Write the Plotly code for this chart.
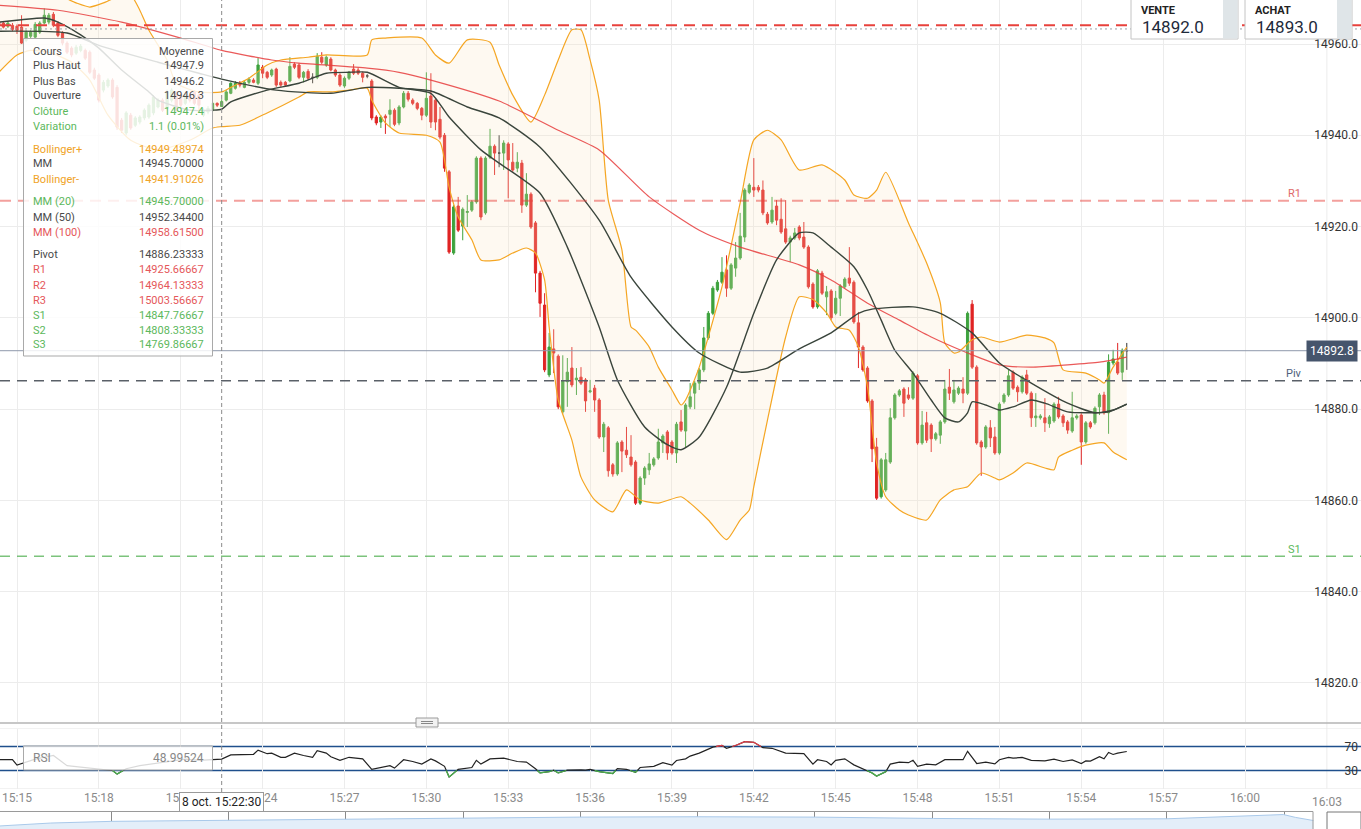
import pandas as pd
import plotly.graph_objects as go

# ---------------- data (10-second candles, 8 oct. 15:14:20 -> 15:55:40) ----------------
opens = [
14964.8, 14964.6, 14963.9, 14964.1, 14963.9, 14963.7, 14960.8, 14961.7, 14961.5, 14962.6,
14964.6, 14964.8, 14966.5, 14964.6, 14962.4, 14960.2, 14959.1, 14958.0, 14958.6, 14958.6,
14958.2, 14954.3, 14953.2, 14949.9, 14950.8, 14952.1, 14950.5, 14943.3, 14940.5, 14944.4,
14942.2, 14942.9, 14943.8, 14944.0, 14944.9, 14946.2, 14947.7, 14945.9, 14947.7, 14949.2,
14948.8, 14947.0, 14948.8, 14949.5, 14948.8, 14944.4, 14945.1, 14945.5, 14947.0, 14946.3,
14947.7, 14949.2, 14950.3, 14951.4, 14950.5, 14951.6, 14952.1, 14951.4, 14954.9, 14953.8,
14953.2, 14954.5, 14951.6, 14951.6, 14951.9, 14955.6, 14955.4, 14952.7, 14954.0, 14952.7,
14952.7, 14957.1, 14955.4, 14956.7, 14954.3, 14953.2, 14950.8, 14952.5, 14954.5, 14954.3,
14953.6, 14953.0, 14951.9, 14944.0, 14942.9, 14944.2, 14944.6, 14945.5, 14942.7, 14946.2,
14949.2, 14947.7, 14947.0, 14945.9, 14944.4, 14948.6, 14947.7, 14943.5, 14940.0, 14932.0,
14914.2, 14924.5, 14920.1, 14923.1, 14923.6, 14925.4, 14935.0, 14923.0, 14935.2, 14937.6,
14936.1, 14936.1, 14938.1, 14934.1, 14932.8, 14933.9, 14924.7, 14927.1, 14920.8, 14909.8,
14902.8, 14887.5, 14893.2, 14891.6, 14879.4, 14886.0, 14889.0, 14886.4, 14887.0, 14886.4,
14883.8, 14884.6, 14882.0, 14873.9, 14875.9, 14867.8, 14865.8, 14872.8, 14871.0, 14869.5,
14868.4, 14859.4, 14864.9, 14866.7, 14867.8, 14869.3, 14872.6, 14875.0, 14872.8, 14870.4,
14877.2, 14875.2, 14880.5, 14883.5, 14885.7, 14888.6, 14895.6, 14901.0, 14906.1, 14907.8,
14910.5, 14906.5, 14910.9, 14913.1, 14917.7, 14927.5, 14928.6, 14928.6, 14928.0, 14922.7,
14921.0, 14924.5, 14921.6, 14919.5, 14916.6, 14917.5, 14919.9, 14917.7, 14915.5, 14907.4,
14902.4, 14909.8, 14904.6, 14905.9, 14901.0, 14904.3, 14906.8, 14908.7, 14907.8, 14898.9,
14893.6, 14889.0, 14881.8, 14871.7, 14860.8, 14862.3, 14868.4, 14878.1, 14883.1, 14884.4,
14883.1, 14882.4, 14887.3, 14872.6, 14877.0, 14876.5, 14873.5, 14874.3, 14877.2, 14884.8,
14881.6, 14883.5, 14884.4, 14883.5, 14903.0, 14889.2, 14872.8, 14871.7, 14875.9, 14873.9,
14870.4, 14881.6, 14883.1, 14888.1, 14884.8, 14883.8, 14887.5, 14883.5, 14878.1, 14878.1,
14878.1, 14876.8, 14877.4, 14881.1, 14878.5, 14877.2, 14875.2, 14878.1, 14878.7, 14872.8,
14877.0, 14877.0, 14880.5, 14883.1, 14879.2, 14890.1, 14890.3, 14888.1, 14892.8]

highs = [
14965.2, 14965.0, 14965.0, 14964.6, 14964.3, 14966.3, 14963.0, 14963.0, 14964.8, 14965.0,
14967.8, 14966.8, 14967.0, 14965.0, 14962.8, 14960.6, 14959.5, 14959.8, 14960.0, 14959.0,
14958.6, 14954.8, 14953.6, 14952.1, 14952.5, 14952.5, 14951.0, 14943.8, 14945.3, 14944.9,
14944.2, 14944.4, 14945.9, 14947.0, 14948.8, 14948.1, 14948.1, 14950.0, 14950.3, 14949.7,
14949.2, 14949.2, 14949.2, 14949.9, 14949.2, 14945.9, 14946.4, 14947.3, 14947.2, 14947.9,
14949.9, 14951.6, 14951.9, 14951.9, 14952.1, 14952.7, 14952.5, 14956.9, 14955.4, 14954.1,
14954.6, 14954.8, 14952.0, 14951.9, 14957.1, 14956.0, 14955.8, 14954.1, 14954.5, 14953.6,
14958.0, 14958.2, 14957.5, 14957.1, 14954.6, 14953.6, 14952.9, 14954.1, 14955.6, 14954.8,
14954.0, 14953.4, 14952.3, 14944.4, 14944.4, 14944.6, 14947.9, 14945.9, 14946.6, 14949.7,
14949.7, 14948.1, 14947.3, 14946.2, 14953.8, 14953.6, 14948.1, 14946.2, 14940.5, 14932.4,
14924.7, 14926.5, 14924.2, 14926.9, 14925.8, 14935.4, 14935.4, 14935.4, 14941.4, 14938.0,
14940.0, 14938.9, 14938.5, 14938.3, 14936.3, 14934.6, 14931.7, 14927.5, 14921.2, 14910.3,
14905.4, 14896.7, 14897.5, 14892.0, 14891.8, 14891.2, 14893.6, 14889.0, 14889.2, 14886.8,
14886.4, 14885.3, 14882.4, 14877.2, 14876.3, 14868.2, 14873.0, 14873.2, 14876.1, 14874.3,
14868.8, 14865.3, 14867.5, 14870.4, 14869.5, 14875.7, 14874.5, 14875.4, 14873.2, 14877.2,
14879.8, 14881.3, 14885.7, 14886.2, 14889.0, 14898.0, 14901.5, 14907.0, 14908.3, 14913.3,
14913.7, 14912.0, 14916.6, 14923.0, 14928.4, 14929.5, 14935.0, 14929.1, 14930.1, 14923.2,
14926.5, 14925.8, 14926.2, 14925.8, 14918.0, 14919.7, 14920.3, 14921.0, 14915.9, 14907.8,
14910.7, 14910.3, 14907.0, 14906.3, 14905.9, 14907.4, 14908.9, 14915.5, 14908.2, 14901.3,
14894.0, 14889.4, 14882.2, 14873.7, 14869.3, 14870.4, 14880.2, 14883.5, 14884.4, 14884.8,
14884.8, 14888.3, 14887.7, 14879.6, 14879.4, 14876.9, 14875.0, 14877.6, 14886.4, 14888.8,
14886.4, 14885.0, 14887.0, 14901.4, 14903.9, 14889.6, 14873.2, 14876.5, 14877.6, 14876.1,
14881.5, 14883.5, 14888.6, 14888.5, 14885.2, 14887.4, 14888.6, 14883.9, 14883.5, 14878.9,
14882.4, 14878.7, 14881.5, 14882.7, 14878.9, 14877.6, 14883.8, 14878.9, 14879.1, 14877.4,
14877.4, 14880.6, 14883.5, 14883.8, 14892.0, 14893.0, 14894.5, 14893.3, 14894.5]

lows = [
14963.8, 14963.4, 14963.5, 14962.8, 14962.2, 14960.0, 14960.4, 14961.2, 14961.2, 14962.2,
14964.3, 14964.3, 14963.7, 14961.5, 14959.7, 14957.8, 14957.1, 14957.6, 14958.2, 14956.5,
14953.4, 14952.1, 14947.2, 14949.4, 14950.4, 14948.0, 14941.2, 14940.5, 14940.0, 14941.2,
14941.8, 14942.4, 14943.3, 14943.6, 14944.4, 14945.9, 14945.1, 14945.5, 14947.2, 14945.1,
14946.2, 14946.6, 14947.2, 14946.6, 14945.5, 14944.0, 14944.6, 14945.1, 14946.2, 14946.2,
14947.4, 14949.0, 14950.0, 14950.5, 14950.3, 14951.2, 14951.4, 14951.0, 14952.5, 14952.3,
14952.8, 14950.6, 14950.6, 14950.8, 14951.6, 14954.5, 14952.3, 14951.6, 14952.1, 14951.4,
14952.3, 14955.6, 14955.0, 14954.0, 14952.8, 14950.6, 14950.4, 14952.1, 14953.2, 14953.2,
14951.6, 14952.5, 14943.3, 14942.2, 14941.6, 14940.3, 14941.8, 14942.0, 14942.2, 14945.9,
14947.4, 14946.6, 14945.5, 14943.3, 14944.0, 14941.6, 14941.1, 14939.1, 14932.0, 14914.0,
14913.8, 14918.8, 14917.0, 14919.9, 14923.2, 14925.0, 14921.4, 14922.6, 14934.8, 14931.3,
14933.0, 14932.4, 14926.2, 14932.0, 14931.9, 14923.0, 14924.3, 14919.5, 14905.6, 14900.2,
14888.1, 14887.0, 14887.9, 14880.0, 14879.0, 14880.5, 14884.8, 14883.1, 14885.3, 14879.4,
14883.5, 14879.4, 14873.5, 14870.6, 14865.2, 14865.2, 14865.4, 14866.2, 14869.3, 14867.4,
14859.0, 14859.0, 14863.4, 14865.6, 14867.4, 14868.9, 14870.4, 14868.9, 14870.0, 14868.2,
14875.0, 14871.5, 14880.0, 14880.0, 14884.2, 14888.1, 14895.2, 14900.6, 14905.7, 14907.4,
14904.6, 14906.1, 14909.0, 14912.7, 14916.6, 14927.1, 14926.5, 14927.5, 14922.5, 14920.4,
14920.6, 14920.3, 14918.4, 14916.2, 14912.2, 14917.1, 14917.0, 14915.1, 14906.4, 14902.0,
14902.0, 14905.0, 14900.6, 14899.5, 14900.6, 14900.4, 14906.4, 14907.0, 14898.7, 14889.0,
14888.2, 14881.4, 14868.4, 14860.1, 14860.4, 14861.9, 14868.0, 14877.7, 14882.7, 14878.3,
14882.0, 14882.0, 14872.2, 14872.2, 14872.6, 14870.6, 14873.1, 14872.4, 14876.8, 14882.0,
14881.2, 14883.1, 14881.3, 14883.1, 14888.8, 14872.2, 14865.4, 14871.3, 14871.7, 14870.0,
14870.0, 14881.2, 14882.7, 14884.2, 14881.6, 14883.4, 14883.1, 14876.1, 14876.1, 14877.7,
14875.0, 14875.9, 14877.0, 14877.9, 14876.1, 14874.6, 14874.8, 14877.7, 14867.8, 14872.4,
14875.7, 14876.6, 14878.7, 14878.8, 14874.6, 14889.6, 14887.5, 14886.4, 14888.6]

closes = [
14964.1, 14963.7, 14964.6, 14963.2, 14963.0, 14960.2, 14962.6, 14962.6, 14964.3, 14964.6,
14966.3, 14966.3, 14964.1, 14961.9, 14960.2, 14958.2, 14957.6, 14959.3, 14959.5, 14956.9,
14953.8, 14952.5, 14947.7, 14951.6, 14952.1, 14948.4, 14941.8, 14941.1, 14944.9, 14941.6,
14943.8, 14944.0, 14945.5, 14946.6, 14948.4, 14947.7, 14945.5, 14949.5, 14949.9, 14945.5,
14946.6, 14948.8, 14947.7, 14947.0, 14946.6, 14945.5, 14945.9, 14947.0, 14946.6, 14947.4,
14949.5, 14951.4, 14951.4, 14951.0, 14951.6, 14952.3, 14951.6, 14955.4, 14953.6, 14952.7,
14954.3, 14951.0, 14951.0, 14951.0, 14955.1, 14954.9, 14952.7, 14953.8, 14952.5, 14952.7,
14957.3, 14956.0, 14957.1, 14954.3, 14953.2, 14951.0, 14952.5, 14953.8, 14953.6, 14953.6,
14952.7, 14953.0, 14943.8, 14942.7, 14944.0, 14943.8, 14945.5, 14942.4, 14946.2, 14949.2,
14947.9, 14947.0, 14945.9, 14944.4, 14948.1, 14942.9, 14942.9, 14939.6, 14932.8, 14914.4,
14924.3, 14919.2, 14923.8, 14923.3, 14925.4, 14935.0, 14922.1, 14935.0, 14937.6, 14936.1,
14936.1, 14938.3, 14934.6, 14932.4, 14934.1, 14924.7, 14927.1, 14919.9, 14909.8, 14903.2,
14888.6, 14893.6, 14892.3, 14880.5, 14886.2, 14888.1, 14885.3, 14886.8, 14885.7, 14881.8,
14884.0, 14882.0, 14873.9, 14876.7, 14866.5, 14865.8, 14872.6, 14870.8, 14870.0, 14867.8,
14859.4, 14864.9, 14867.1, 14868.0, 14869.1, 14872.8, 14874.1, 14870.4, 14870.4, 14876.7,
14875.4, 14880.9, 14882.7, 14885.7, 14888.6, 14895.6, 14901.0, 14906.5, 14907.8, 14910.0,
14906.5, 14911.6, 14913.1, 14917.9, 14928.0, 14929.1, 14928.0, 14928.0, 14923.0, 14920.8,
14923.6, 14921.4, 14918.8, 14916.6, 14917.5, 14918.6, 14917.5, 14915.5, 14906.8, 14902.4,
14910.3, 14905.4, 14905.7, 14900.0, 14904.3, 14907.0, 14908.5, 14907.6, 14899.1, 14893.6,
14888.6, 14881.8, 14871.3, 14860.5, 14868.9, 14868.9, 14878.1, 14883.1, 14884.0, 14881.3,
14882.4, 14887.9, 14872.6, 14876.5, 14873.2, 14873.5, 14874.6, 14877.2, 14884.4, 14883.5,
14884.2, 14884.6, 14883.5, 14901.0, 14889.2, 14872.6, 14871.7, 14876.1, 14873.7, 14870.4,
14881.1, 14883.1, 14887.3, 14884.6, 14883.8, 14887.0, 14883.5, 14878.1, 14878.5, 14878.5,
14877.0, 14878.3, 14881.1, 14878.3, 14877.0, 14875.4, 14878.1, 14878.5, 14872.8, 14877.0,
14876.1, 14880.2, 14883.1, 14879.2, 14890.3, 14891.0, 14887.9, 14892.9, 14892.8]

# indicator lines, sampled at candle indices
mm20_idx = [0, 5, 10, 13, 18, 22, 27, 33, 35, 42, 47, 49, 51, 59, 66, 72, 77, 81, 88, 95, 99, 106, 110,
            119, 125, 132, 136, 142, 147, 150, 154, 160, 166, 171, 176, 179, 183, 188, 191, 194, 197,
            201, 205, 208, 211, 213, 214, 217, 220, 223, 227, 230, 235, 239, 244, 248]
mm20_val = [14964.8, 14965.3, 14965.7, 14964.8, 14962.0, 14959.1, 14954.3, 14949.5, 14947.7, 14945.5,
            14945.5, 14945.7, 14947.3, 14949.9, 14951.4, 14953.6, 14953.8, 14953.8, 14950.5, 14949.2,
            14944.0, 14936.8, 14933.9, 14927.3, 14915.5, 14898.0, 14886.4, 14876.1, 14872.2, 14871.1,
            14873.9, 14884.8, 14901.0, 14912.7, 14918.6, 14918.6, 14915.5, 14911.2, 14906.1, 14899.5,
            14892.9, 14887.9, 14882.0, 14878.1, 14877.2, 14879.2, 14881.6, 14880.9, 14879.8, 14880.5,
            14882.0, 14881.3, 14879.4, 14879.2, 14879.4, 14881.1]

mm50_idx = [0, 15, 22, 35, 44, 49, 61, 73, 81, 88, 95, 103, 110, 119, 132, 139, 148, 154, 163, 169,
            176, 183, 189, 192, 201, 207, 214, 220, 227, 235, 241, 245, 248]
mm50_val = [14962.8, 14962.4, 14959.7, 14956.0, 14953.6, 14952.3, 14949.9, 14949.2, 14950.5, 14950.3,
            14949.7, 14946.2, 14943.8, 14937.4, 14921.4, 14908.9, 14898.0, 14892.3, 14888.1, 14889.0,
            14893.2, 14896.7, 14901.0, 14901.9, 14902.4, 14901.0, 14896.7, 14890.1, 14885.7, 14881.3,
            14879.2, 14879.8, 14881.1]

mm100_idx = [0, 13, 27, 40, 49, 60, 66, 81, 88, 95, 110, 123, 132, 143, 154, 163, 176, 183, 191, 198,
             205, 213, 220, 227, 235, 242, 248]
mm100_val = [14968.5, 14967.4, 14964.8, 14961.3, 14958.6, 14956.5, 14955.8, 14954.7, 14953.8, 14952.1,
             14947.5, 14941.1, 14936.8, 14926.5, 14919.2, 14915.5, 14911.6, 14908.3, 14903.2, 14899.5,
             14895.8, 14892.3, 14889.7, 14889.2, 14889.7, 14890.3, 14891.4]

boll_up_idx = [0, 13, 17, 20, 23, 26, 29, 31, 33, 37, 39, 44, 49, 51, 55, 59, 62, 68, 72, 81, 82, 85,
               93, 96, 99, 103, 108, 110, 113, 117, 120, 123, 126, 128, 130, 132, 134, 137, 139, 140,
               143, 145, 148, 150, 151, 154, 159, 163, 166, 169, 172, 176, 181, 186, 188, 191, 193,
               195, 200, 204, 207, 208, 210, 211, 214, 216, 220, 226, 230, 232, 234, 239, 242, 243,
               245, 248]
boll_up_val = [14972.9, 14970.7, 14969.0, 14968.1, 14969.0, 14970.3, 14970.7, 14967.4, 14963.0, 14956.5,
               14951.4, 14949.5, 14949.5, 14950.5, 14952.5, 14955.4, 14956.5, 14957.1, 14957.6, 14957.6,
               14960.9, 14961.3, 14961.3, 14957.6, 14955.8, 14960.9, 14960.4, 14955.4, 14948.8, 14942.9,
               14948.8, 14956.5, 14963.1, 14963.1, 14956.5, 14947.7, 14925.8, 14914.9, 14898.0, 14897.3,
               14893.6, 14889.2, 14884.2, 14880.9, 14882.0, 14889.2, 14906.8, 14925.2, 14939.0, 14941.1,
               14939.0, 14932.4, 14933.5, 14930.2, 14926.9, 14926.2, 14928.0, 14931.9, 14920.8, 14912.0,
               14903.3, 14894.5, 14892.3, 14892.5, 14895.2, 14895.8, 14894.7, 14896.2, 14895.6, 14894.5,
               14888.6, 14887.9, 14886.4, 14885.7, 14889.2, 14893.6]

boll_lo_idx = [0, 4, 7, 11, 16, 20, 24, 29, 35, 42, 47, 49, 53, 59, 66, 68, 73, 77, 81, 82, 85, 88, 94,
               97, 99, 101, 104, 106, 110, 113, 116, 118, 120, 121, 123, 126, 128, 131, 135, 138, 141,
               145, 150, 152, 156, 160, 163, 165, 166, 169, 173, 176, 179, 182, 184, 187, 189, 191,
               193, 195, 198, 200, 204, 207, 210, 213, 216, 219, 220, 223, 226, 230, 232, 233, 236,
               239, 243, 245, 248]
boll_lo_val = [14953.8, 14957.6, 14958.6, 14958.2, 14956.0, 14952.1, 14944.4, 14938.9, 14936.8, 14938.9,
               14941.6, 14941.9, 14942.2, 14944.9, 14948.4, 14949.5, 14949.5, 14949.9, 14950.3, 14947.7,
               14942.7, 14940.5, 14940.0, 14938.5, 14928.6, 14922.1, 14917.1, 14912.7, 14912.7, 14914.2,
               14915.3, 14914.2, 14908.3, 14898.0, 14882.0, 14873.2, 14865.1, 14860.1, 14857.5, 14862.3,
               14860.1, 14859.4, 14860.8, 14859.4, 14855.7, 14851.4, 14855.7, 14857.9, 14863.0, 14877.6,
               14895.8, 14904.6, 14904.0, 14901.1, 14898.0, 14897.3, 14893.6, 14884.8, 14868.2, 14860.8,
               14857.9, 14856.8, 14855.7, 14860.1, 14862.3, 14863.0, 14866.0, 14864.9, 14864.5, 14866.0,
               14868.2, 14867.1, 14866.7, 14869.5, 14871.0, 14872.1, 14872.6, 14870.6, 14868.9]

rsi_idx = [0, 3, 4, 8, 12, 15, 18, 21, 25, 26, 28, 31, 34, 38, 41, 44, 47, 49, 51, 56, 57, 59, 60, 62,
           63, 65, 67, 69, 70, 72, 73, 75, 77, 80, 82, 84, 86, 87, 89, 91, 93, 95, 96, 98, 99, 101, 102,
           104, 105, 106, 108, 111, 114, 116, 118, 119, 121, 122, 123, 125, 128, 129, 130, 132, 135, 136,
           138, 140, 141, 144, 146, 148, 149, 151, 152, 154, 157, 159, 160, 162, 164, 166, 168, 170, 173,
           175, 177, 179, 180, 182, 183, 184, 186, 188, 190, 192, 193, 195, 196, 198, 200, 201, 202, 204,
           206, 208, 212, 213, 215, 217, 219, 220, 222, 223, 225, 227, 230, 232, 234, 236, 238, 239, 240,
           242, 243, 244, 245, 246, 248]
rsi_val = [48, 48, 39, 49, 55, 38, 35.6, 33, 30, 24, 33, 38, 41, 45, 49, 47, 47.5, 48.99524, 56, 57, 64,
           58, 59, 52, 52, 59, 55, 52, 63, 59, 53, 47, 52, 49.4, 32, 35, 38, 34, 48, 45, 40.6, 49.4, 46,
           37, 19, 32, 33, 35, 47, 40.6, 49.4, 50.5, 45, 44, 33, 26, 28, 30.5, 26, 30.5, 31, 30.5, 32,
           28, 25, 33, 32, 27, 35, 37, 43, 39, 46.7, 49.4, 54, 59, 69, 71.7, 67, 71.7, 78, 77, 68, 67,
           59, 59, 58, 40.6, 48, 45, 39.4, 47, 49.4, 39.4, 33, 26, 20.6, 28, 40.6, 44, 43, 47, 37, 40.6,
           39.4, 48, 48, 62, 41.7, 44, 41, 48, 52, 50.5, 51.7, 47, 46, 48.9, 45, 47.8, 41.7, 46, 45.6,
           53, 49.4, 60, 56.7, 59, 61.7]

nav_pos = [0, 3.7, 8.2, 16.8, 25.4, 34.0, 42.6, 51.3, 59.9, 68.6, 77.1, 85.7, 94.3, 95.2, 96.5]
nav_val = [1.8, 3.5, 4.5, 5.2, 6.0, 6.5, 7.0, 7.2, 7.0, 6.2, 5.8, 6.0, 8.5, 6.8, 5.0]

time_tick_labels = ["15:15", "15:18", "15:21", "15:24", "15:27", "15:30", "15:33", "15:36", "15:39",
                    "15:42", "15:45", "15:48", "15:51", "15:54", "15:57", "16:00", "16:03"]
pivot_names = ["R2", "R1", "Pivot", "S1"]
pivot_values = [14964.13333, 14925.66667, 14886.23333, 14847.76667]
last_price = 14892.8
sell_price, buy_price = "14892.0", "14893.0"
crosshair_time = "2019-10-08 15:22:30"
crosshair_price = 14963.3
rsi_value_text = "48.99524"

tip_rows = [
    ("Cours", "Moyenne", "dark"), ("Plus Haut", "14947.9", "dark"), ("Plus Bas", "14946.2", "dark"),
    ("Ouverture", "14946.3", "dark"), ("Clôture", "14947.4", "green"), ("Variation", "1.1 (0.01%)", "green"),
    ("Bollinger+", "14949.48974", "orange"), ("MM", "14945.70000", "dark"), ("Bollinger-", "14941.91026", "orange"),
    ("MM (20)", "14945.70000", "green"), ("MM (50)", "14952.34400", "dark"), ("MM (100)", "14958.61500", "red"),
    ("Pivot", "14886.23333", "dark"), ("R1", "14925.66667", "red"), ("R2", "14964.13333", "red"),
    ("R3", "15003.56667", "red"), ("S1", "14847.76667", "green"), ("S2", "14808.33333", "green"),
    ("S3", "14769.86667", "green")]
tip_row_y = [51, 66, 81, 96, 111, 126, 149, 164, 179, 202, 217, 232, 255, 270, 285, 300, 315, 330, 345]

# ---------------- figure ----------------
W, H = 1361, 829
FONT = "Roboto, Arial, sans-serif"
def PX(x): return x / W
def PY(y): return 1 - y / H

start = pd.Timestamp("2019-10-08 15:14:20")
times = [start + pd.Timedelta(seconds=10 * i) for i in range(len(opens))]
tick_times = [pd.Timestamp("2019-10-08 " + s + ":00") for s in time_tick_labels]
GREEN, RED = "#3da23d", "#e02424"
TXT = {"dark": "#4a4a4a", "green": "#5cb85c", "orange": "#f0a326", "red": "#e5575a"}

fig = go.Figure()

def line_xy(idx, val):
    return [times[i] for i in idx], val

# Bollinger fill
bx, by = line_xy(boll_lo_idx, boll_lo_val)
fig.add_trace(go.Scatter(x=bx, y=by, mode="lines", line=dict(width=0, shape="spline", smoothing=0.5),
                         hoverinfo="skip", xaxis="x", yaxis="y"))
ux, uy = line_xy(boll_up_idx, boll_up_val)
fig.add_trace(go.Scatter(x=ux, y=uy, mode="lines", line=dict(width=0, shape="spline", smoothing=0.5),
                         fill="tonexty", fillcolor="rgba(250,228,190,0.22)", hoverinfo="skip",
                         xaxis="x", yaxis="y"))

# candles
n = len(opens)
groups = [([i for i in range(n) if closes[i] > opens[i]], GREEN),
          ([i for i in range(n) if closes[i] < opens[i]], RED),
          ([i for i in range(n) if closes[i] == opens[i]], "#333333")]
for idx, col in groups:
    fig.add_trace(go.Candlestick(
        x=[times[i] for i in idx], open=[opens[i] for i in idx], high=[highs[i] for i in idx],
        low=[lows[i] for i in idx], close=[closes[i] for i in idx],
        increasing=dict(line=dict(color=col, width=1), fillcolor=col),
        decreasing=dict(line=dict(color=col, width=1), fillcolor=col),
        whiskerwidth=0, hoverinfo="skip", xaxis="x", yaxis="y"))

# band lines and moving averages
for idx, val, col, w in [(boll_up_idx, boll_up_val, "#f5a623", 1.2), (boll_lo_idx, boll_lo_val, "#f5a623", 1.2),
                         (mm100_idx, mm100_val, "rgba(230,60,60,0.85)", 1.2),
                         (mm50_idx, mm50_val, "#3a453c", 1.4), (mm20_idx, mm20_val, "#3a453c", 1.4)]:
    x, y = line_xy(idx, val)
    fig.add_trace(go.Scatter(x=x, y=y, mode="lines", line=dict(color=col, width=w, shape="spline", smoothing=0.6),
                             hoverinfo="skip", xaxis="x", yaxis="y"))

# RSI
rx = [times[i] for i in rsi_idx]
fig.add_trace(go.Scatter(x=rx, y=rsi_val, mode="lines", line=dict(color="#222222", width=1.2),
                         hoverinfo="skip", xaxis="x", yaxis="y2"))

def clip_parts(ts, vs, level, above):
    tn = [t.value / 1e6 for t in ts]
    xs, ys = [], []
    for k in range(len(vs) - 1):
        t1, t2, v1, v2 = tn[k], tn[k + 1], vs[k], vs[k + 1]
        in1 = v1 > level if above else v1 < level
        in2 = v2 > level if above else v2 < level
        if not in1 and not in2:
            continue
        if in1 and in2:
            seg = [(t1, v1), (t2, v2)]
        else:
            f = (level - v1) / (v2 - v1)
            tc = t1 + f * (t2 - t1)
            seg = [(t1, v1), (tc, level)] if in1 else [(tc, level), (t2, v2)]
        xs += [pd.Timestamp(s[0], unit="ms") for s in seg] + [None]
        ys += [s[1] for s in seg] + [None]
    return xs, ys

for level, above, col in [(70, True, "#e8404a"), (30, False, "#4cb04c")]:
    xs, ys = clip_parts(rx, rsi_val, level, above)
    fig.add_trace(go.Scatter(x=xs, y=ys, mode="lines", line=dict(color=col, width=1.3),
                             hoverinfo="skip", xaxis="x", yaxis="y2"))

# navigator
fig.add_trace(go.Scatter(x=nav_pos, y=nav_val, mode="lines", line=dict(color="#a9c9ea", width=1),
                         fill="tozeroy", fillcolor="#e3eef9", hoverinfo="skip", xaxis="x3", yaxis="y3"))

xmin = pd.Timestamp("2019-10-08 15:14:22.6")
xmax = pd.Timestamp("2019-10-08 16:04:15")

shapes = []
# pivot levels
lvl_style = {"R2": ("#e8413c", 2, "11px,7px"), "R1": ("rgba(232,65,60,0.5)", 2, "11px,7px"),
             "Pivot": ("#5a6068", 1.5, "10px,7px"), "S1": ("rgba(80,175,80,0.75)", 1.5, "10px,7px")}
for name, v in zip(pivot_names, pivot_values):
    c, w, d = lvl_style[name]
    shapes.append(dict(type="line", xref="paper", yref="y", x0=0, x1=1, y0=v, y1=v,
                       line=dict(color=c, width=w, dash=d), layer="above"))
shapes.append(dict(type="line", xref="paper", yref="y", x0=0, x1=1, y0=last_price, y1=last_price,
                   line=dict(color="#8e98ab", width=1), layer="above"))
shapes.append(dict(type="line", xref="paper", yref="y", x0=0, x1=1, y0=crosshair_price, y1=crosshair_price,
                   line=dict(color="#9aa0a8", width=1, dash="2px,3px"), layer="above"))
shapes.append(dict(type="line", xref="x", yref="paper", x0=crosshair_time, x1=crosshair_time, y0=PY(792), y1=1,
                   line=dict(color="#8a8a8a", width=1, dash="4px,3px"), layer="above"))
# last time gridline (16:03)
shapes.append(dict(type="line", xref="x", yref="paper", x0=tick_times[-1], x1=tick_times[-1], y0=PY(788.5), y1=1,
                   line=dict(color="#ececec", width=1), layer="below"))
# RSI levels
for v in (0, 100):
    shapes.append(dict(type="line", xref="paper", yref="y2", x0=0, x1=1, y0=v, y1=v,
                       line=dict(color="#e6e6e6", width=1), layer="below"))
for v in (30, 70):
    shapes.append(dict(type="line", xref="paper", yref="y2", x0=0, x1=1, y0=v, y1=v,
                       line=dict(color="#1f4f8c", width=1.3), layer="below"))
# panel separator + handle
shapes.append(dict(type="line", xref="paper", yref="paper", x0=0, x1=1, y0=PY(723), y1=PY(723),
                   line=dict(color="#b4b4b4", width=1.5)))
shapes.append(dict(type="rect", xref="paper", yref="paper", x0=PX(416), x1=PX(438), y0=PY(727), y1=PY(718),
                   fillcolor="#f2f2f2", line=dict(color="#9a9a9a", width=1)))
for yy in (721.5, 723.5):
    shapes.append(dict(type="line", xref="paper", yref="paper", x0=PX(421), x1=PX(433), y0=PY(yy), y1=PY(yy),
                       line=dict(color="#888888", width=1)))
# navigator border and right box
shapes.append(dict(type="line", xref="paper", yref="paper", x0=0, x1=PX(1313), y0=PY(811.5), y1=PY(811.5),
                   line=dict(color="#9a9a9a", width=1)))
shapes.append(dict(type="line", xref="paper", yref="paper", x0=PX(1313), x1=PX(1313), y0=0, y1=PY(811.5),
                   line=dict(color="#9a9a9a", width=1)))
shapes.append(dict(type="rect", xref="paper", yref="paper", x0=PX(1327), x1=PX(1361), y0=-0.01, y1=PY(812),
                   fillcolor="white", line=dict(color="#777777", width=1)))
# tooltip overlays
shapes.append(dict(type="rect", xref="paper", yref="paper", x0=PX(23.5), x1=PX(212.5), y0=PY(356), y1=PY(38.5),
                   fillcolor="rgba(255,255,255,0.83)", line=dict(color="#a9a9a9", width=1), layer="above"))
shapes.append(dict(type="rect", xref="paper", yref="paper", x0=PX(23.5), x1=PX(212.5), y0=PY(770), y1=PY(746),
                   fillcolor="rgba(255,255,255,0.83)", line=dict(color="#a9a9a9", width=1), layer="above"))
# price boxes
for x0 in (1131, 1245):
    shapes.append(dict(type="rect", xref="paper", yref="paper", x0=PX(x0), x1=PX(x0 + 107), y0=PY(39), y1=PY(-3),
                       fillcolor="white", line=dict(color="#c4c4c4", width=1), layer="above"))
    shapes.append(dict(type="rect", xref="paper", yref="paper", x0=PX(x0 + 92), x1=PX(x0 + 106.5), y0=PY(38.5), y1=PY(-2),
                       fillcolor="#dfe5e8", line=dict(width=0), layer="above"))

ann = []
for (lab, val, c), yy in zip(tip_rows, tip_row_y):
    ann.append(dict(xref="paper", yref="paper", x=PX(31), y=PY(yy), text=lab, showarrow=False,
                    xanchor="left", yanchor="middle", font=dict(family=FONT, size=11, color=TXT[c])))
    ann.append(dict(xref="paper", yref="paper", x=PX(206), y=PY(yy), text=val, showarrow=False,
                    xanchor="right", yanchor="middle", font=dict(family=FONT, size=11, color=TXT[c])))
ann.append(dict(xref="paper", yref="paper", x=PX(31), y=PY(758), text="RSI", showarrow=False,
                xanchor="left", yanchor="middle", font=dict(family=FONT, size=12, color="#888888")))
ann.append(dict(xref="paper", yref="paper", x=PX(206), y=PY(758), text=rsi_value_text, showarrow=False,
                xanchor="right", yanchor="middle", font=dict(family=FONT, size=12, color="#888888")))
# last time label (kept as explicit text so it is not dropped at the edge)
ann.append(dict(xref="x", yref="paper", x=tick_times[-1], y=PY(802), text=time_tick_labels[-1], showarrow=False,
                xanchor="center", yanchor="middle", font=dict(family=FONT, size=12, color="#8a8a8a")))
# level labels
lvl_lab = {"R1": ("R1", "#e06a6a"), "Pivot": ("Piv", "#4f5f7c"), "S1": ("S1", "#5cb85c")}
for name, v in zip(pivot_names, pivot_values):
    if name in lvl_lab:
        t, c = lvl_lab[name]
        ann.append(dict(xref="paper", yref="y", x=PX(1294), y=v, yshift=7, text=t, showarrow=False,
                        xanchor="center", yanchor="middle", font=dict(family=FONT, size=11, color=c)))
# last price tag
ann.append(dict(xref="paper", yref="y", x=PX(1358), y=last_price, text="14892.8", showarrow=False,
                xanchor="right", yanchor="middle", bgcolor="#46556c", borderpad=3,
                font=dict(family=FONT, size=12, color="white")))
# crosshair date
ann.append(dict(xref="x", yref="paper", x=crosshair_time, y=PY(802), text="8 oct. 15:22:30", showarrow=False,
                xanchor="center", yanchor="middle", bgcolor="white", bordercolor="#9a9a9a", borderwidth=1,
                borderpad=2, font=dict(family=FONT, size=12, color="#222222")))
# sell / buy boxes
for x0, lab, val in ((1131, "VENTE", sell_price), (1245, "ACHAT", buy_price)):
    ann.append(dict(xref="paper", yref="paper", x=PX(x0 + 8), y=PY(11), text="<b>" + lab + "</b>", showarrow=False,
                    xanchor="left", yanchor="middle", font=dict(family=FONT, size=11, color="#222222")))
    ann.append(dict(xref="paper", yref="paper", x=PX(x0 + 9), y=PY(27), text=val, showarrow=False,
                    xanchor="left", yanchor="middle", font=dict(family=FONT, size=17, color="#1e2a3a")))

fig.update_layout(
    width=W, height=H, margin=dict(l=0, r=0, t=0, b=0), paper_bgcolor="white", plot_bgcolor="white",
    showlegend=False, shapes=shapes, annotations=ann, font=dict(family=FONT),
    xaxis=dict(type="date", range=[xmin, xmax], domain=[0, 1], anchor="y2", tickmode="array",
               tickvals=tick_times[:-1], ticktext=time_tick_labels[:-1], showgrid=True, gridcolor="#ececec",
               gridwidth=1, zeroline=False, showline=False, ticks="", rangeslider=dict(visible=False),
               ticklabeloverflow="allow",
               tickfont=dict(family=FONT, size=12, color="#8a8a8a")),
    yaxis=dict(domain=[PY(722), 1], anchor="x", range=[14811.45, 14969.64], side="right",
               ticklabelposition="inside", tick0=14800, dtick=20, tickformat=".1f", showgrid=True,
               gridcolor="#ececec", zeroline=False, showline=False, ticks="",
               tickfont=dict(family=FONT, size=12, color="#333333")),
    yaxis2=dict(domain=[PY(788.5), PY(728.5)], anchor="x", range=[0, 100], side="right",
                ticklabelposition="inside", tickvals=[30, 70], showgrid=False, zeroline=False,
                showline=False, ticks="", tickfont=dict(family=FONT, size=12, color="#333333")),
    xaxis3=dict(domain=[0, 1], anchor="y3", range=[0, 100], tick0=8.16, dtick=8.62, showgrid=True,
                gridcolor="#8a8a8a", showticklabels=False, zeroline=False, ticks=""),
    yaxis3=dict(domain=[0, PY(812)], anchor="x3", range=[0, 10], showgrid=False, showticklabels=False,
                zeroline=False, ticks=""),
)

fig.write_html("out.html", config={"displayModeBar": False},
               post_script="document.body.style.margin='0';document.body.style.overflow='hidden';")
